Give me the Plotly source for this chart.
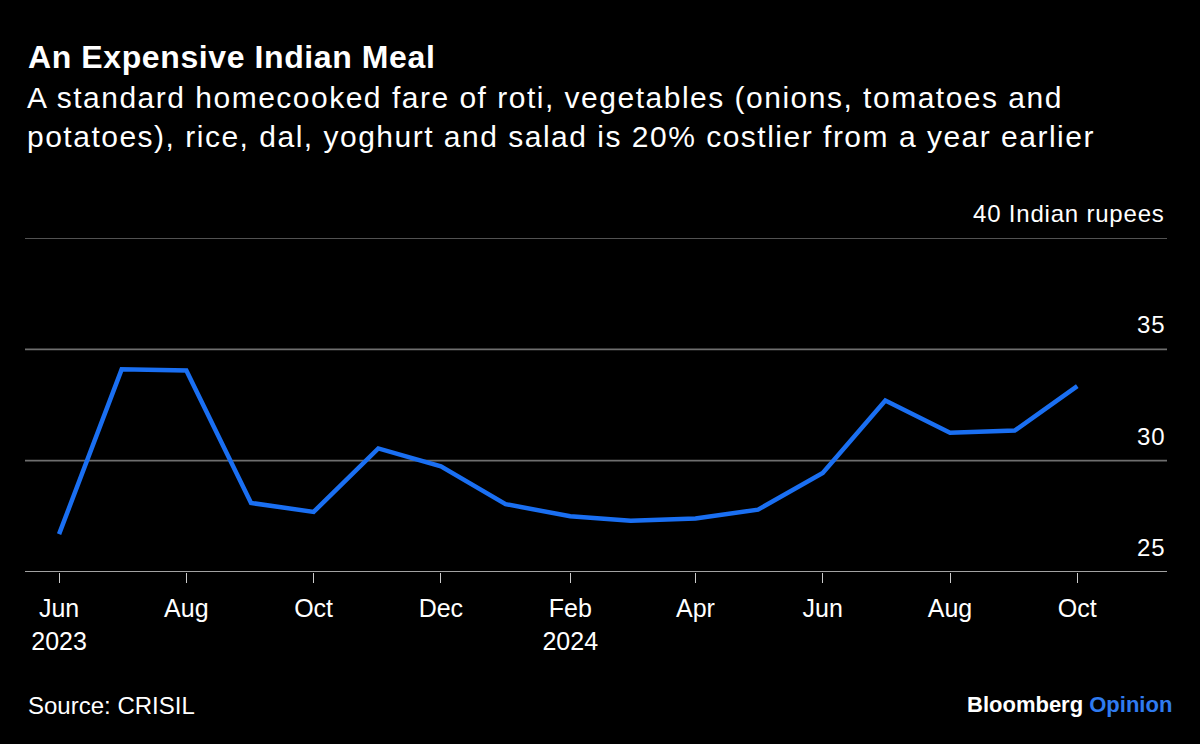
import plotly.graph_objects as go

months = ["2023-06-01", "2023-07-01", "2023-08-01", "2023-09-01", "2023-10-01", "2023-11-01",
          "2023-12-01", "2024-01-01", "2024-02-01", "2024-03-01", "2024-04-01", "2024-05-01",
          "2024-06-01", "2024-07-01", "2024-08-01", "2024-09-01", "2024-10-01"]
cost = [26.7, 34.1, 34.05, 28.1, 27.7, 30.55, 29.75, 28.05, 27.5, 27.3, 27.4, 27.8,
        29.45, 32.7, 31.25, 31.35, 33.35]

tick_dates = ["2023-06-01", "2023-08-01", "2023-10-01", "2023-12-01", "2024-02-01",
              "2024-04-01", "2024-06-01", "2024-08-01", "2024-10-01"]
tick_text = ["Jun<br>2023", "Aug", "Oct", "Dec", "Feb<br>2024", "Apr", "Jun", "Aug", "Oct"]
y_ticks = [25, 30, 35, 40]
y_labels = ["25", "30", "35", "40 Indian rupees"]

FONT = "Liberation Sans, Arial, sans-serif"

W, H = 1200, 744
ML, MR, MT, MB = 25, 33, 238, 172

fig = go.Figure()
fig.add_trace(go.Scatter(x=months, y=cost, mode="lines",
                         line=dict(color="#1a6ff2", width=4.5), hoverinfo="skip"))

fig.update_layout(
    width=W, height=H,
    paper_bgcolor="black", plot_bgcolor="black",
    margin=dict(l=ML, r=MR, t=MT, b=MB, pad=0),
    showlegend=False,
    font=dict(family=FONT, color="white"),
    xaxis=dict(
        type="date",
        range=["2023-05-15 16:00", "2024-11-13"],
        tickvals=tick_dates, ticktext=tick_text,
        ticks="outside", ticklen=10, tickwidth=1.3, tickcolor="#cccccc",
        ticklabelstandoff=4,
        tickfont=dict(size=25, color="white", family=FONT),
        showgrid=False, zeroline=False, showline=False, fixedrange=True,
    ),
    yaxis=dict(
        range=[25, 40],
        showticklabels=False, showgrid=False,
        zeroline=False, fixedrange=True,
    ),
)

# gridlines and labels from the y tick list
for v, lab in zip(y_ticks, y_labels):
    color = "#d8d8d8" if v == y_ticks[0] else "#6e6e6e"
    fig.add_shape(type="line", xref="paper", yref="y", x0=0, x1=1, y0=v, y1=v,
                  line=dict(color=color, width=1.6), layer="below")
    fig.add_annotation(xref="paper", yref="y", x=1, y=v,
                       text=f"<span style='letter-spacing:0.8px'>{lab}</span>", showarrow=False,
                       xanchor="right", yanchor="bottom", yshift=9,
                       font=dict(size=24, color="white", family=FONT))


def px_to_paper_y(py):
    return (H - MB - py) / (H - MT - MB)


def px_to_paper_x(px):
    return (px - ML) / (W - ML - MR)


fig.add_annotation(xref="paper", yref="paper", x=px_to_paper_x(26), y=px_to_paper_y(57),
                   text="<b><span style='letter-spacing:0.6px'>An Expensive Indian Meal</span></b>",
                   showarrow=False, xanchor="left", yanchor="middle",
                   font=dict(size=32, color="white", family=FONT))
fig.add_annotation(xref="paper", yref="paper", x=px_to_paper_x(25), y=px_to_paper_y(117),
                   text="<span style='letter-spacing:1.5px'>A standard homecooked fare of roti, vegetables (onions, tomatoes and</span><br>"
                        "<span style='letter-spacing:1.5px'>potatoes), rice, dal, yoghurt and salad is 20% costlier from a year earlier</span>",
                   showarrow=False, xanchor="left", yanchor="middle", align="left",
                   font=dict(size=30, color="white", family=FONT))
fig.add_annotation(xref="paper", yref="paper", x=px_to_paper_x(26), y=px_to_paper_y(705),
                   text="Source: CRISIL", showarrow=False, xanchor="left", yanchor="middle",
                   font=dict(size=24, color="white", family=FONT))
fig.add_annotation(xref="paper", yref="paper", x=px_to_paper_x(1174), y=px_to_paper_y(704),
                   text="<b>Bloomberg</b> <span style='color:#2f7bf0'><b>Opinion</b></span>",
                   showarrow=False, xanchor="right", yanchor="middle",
                   font=dict(size=22, color="white", family=FONT))

fig.write_html("out.html", config={"displayModeBar": False},
               post_script="document.body.style.margin='0';")
